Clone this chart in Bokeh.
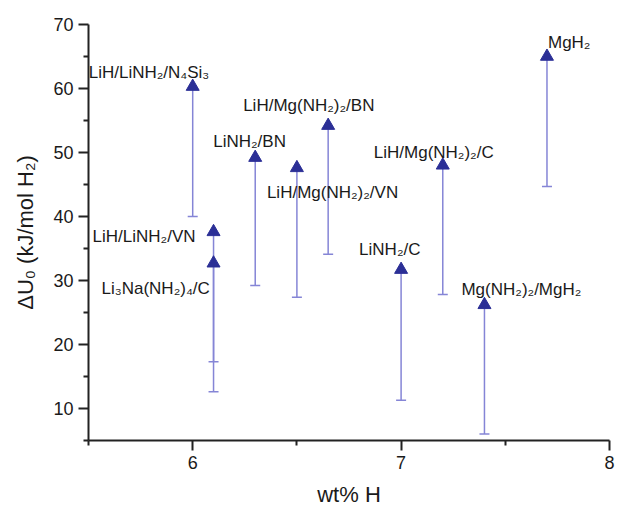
from bokeh.plotting import figure
from bokeh.models import ColumnDataSource, Range1d, FixedTicker, Whisker, TeeHead
from bokeh.core.properties import value
from bokeh.embed import file_html
from bokeh.resources import INLINE

names = ["LiH/LiNH₂/N₄Si₃", "LiNH₂/BN", "LiH/Mg(NH₂)₂/VN", "LiH/Mg(NH₂)₂/BN",
         "LiH/Mg(NH₂)₂/C", "MgH₂", "LiNH₂/C", "Mg(NH₂)₂/MgH₂",
         "LiH/LiNH₂/VN", "Li₃Na(NH₂)₄/C"]
wt_h = [6.0, 6.3, 6.5, 6.65, 7.2, 7.7, 7.0, 7.4, 6.1, 6.1]
du0 = [60.3, 49.2, 47.6, 54.2, 48.0, 65.0, 31.7, 26.2, 37.6, 32.7]
du0_low = [40.0, 29.2, 27.4, 34.1, 27.8, 44.7, 11.3, 6.0, 17.3, 12.6]
x_ticks = [6, 7, 8]
x_minor = [5.5, 6.5, 7.5]
y_ticks = [10, 20, 30, 40, 50, 60, 70]
y_minor = [5, 15, 25, 35, 45, 55, 65]

lab_dx = [-104, -42, -30, -85, -69, 1, -42, -23, -121, -112]
lab_dy = [-14, -16, 25, -20, -13, -14, -20, -15, 5, 25]

src = ColumnDataSource(dict(x=wt_h, y=du0, low=du0_low, name=names,
                            dx=lab_dx, dy=lab_dy))

FONT = "Liberation Sans"
p = figure(width=616, height=509, output_backend="svg", toolbar_location=None,
           x_range=Range1d(5.5, 8), y_range=Range1d(5, 70),
           min_border_left=88, min_border_right=7, min_border_top=24,
           min_border_bottom=56)
p.outline_line_color = None
p.xgrid.visible = False
p.ygrid.visible = False

p.xaxis.ticker = FixedTicker(ticks=x_ticks, minor_ticks=x_minor)
p.yaxis.ticker = FixedTicker(ticks=y_ticks, minor_ticks=y_minor)
p.axis.major_tick_out = 10
p.axis.minor_tick_out = 5
p.axis.major_tick_in = 0
p.axis.axis_line_width = 2
p.axis.axis_line_color = "#222222"
p.axis.major_tick_line_width = 2
p.axis.major_tick_line_color = "#222222"
p.axis.minor_tick_line_width = 2
p.axis.minor_tick_line_color = "#222222"
p.axis.major_label_text_font = FONT
p.axis.major_label_text_font_size = "18px"
p.axis.major_label_text_color = "#1a1a1a"
p.axis.axis_label_text_font = FONT
p.axis.axis_label_text_font_size = "22px"
p.axis.axis_label_text_font_style = "normal"
p.axis.axis_label_text_color = "#1a1a1a"
p.xaxis.axis_label = "wt% H"
p.yaxis.axis_label = "ΔU₀ (kJ/mol H₂)"
p.xaxis.axis_label_standoff = 10
p.yaxis.axis_label_standoff = 12

ecol = "#8585d6"
w = Whisker(source=src, base="x", lower="low", upper="y", dimension="height",
            line_color=ecol, line_width=1.5, upper_head=None,
            lower_head=TeeHead(size=10, line_color=ecol, line_width=1.5))
p.add_layout(w)

p.scatter("x", "y", source=src, marker="triangle", size=13,
          fill_color="#2b2f96", line_color="#2b2f96")

p.text("x", "y", text="name", source=src, x_offset="dx", y_offset="dy",
       text_font=value(FONT), text_font_size="17px", text_color="#1a1a1a",
       text_align="left", text_baseline="alphabetic")

open("out.html", "w").write(file_html(p, INLINE))
